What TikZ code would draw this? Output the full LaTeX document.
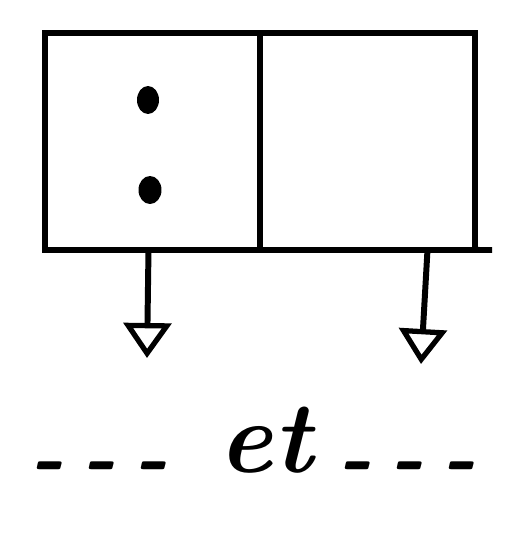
\documentclass[tikz,border=0pt]{standalone}
\usetikzlibrary{arrows.meta,positioning}
\newcommand{\lowdash}{\raisebox{-0.15em}{-}}
\begin{document}
\begin{tikzpicture}[x=0.02cm,y=-0.02cm,line width=3.4pt,
    cell/.style={draw,minimum width=4.3cm,minimum height=4.34cm,inner sep=0pt,outer sep=0pt},
    ptr/.style={-{Triangle[open,length=0.7cm,width=0.95cm,line width=3pt]}}]
    \useasboundingbox (0,0) rectangle (516,541);

    % Cells
    \node[cell] (left) at (152.5,141.5) {};
    \node[cell] (right) at (367.5,141.5) {};
    \coordinate (tail) at (492,250);
    \draw (right.south east) -- (tail);

    % Dots in the first cell
    \fill (148,100) ellipse (0.22cm and 0.28cm);
    \fill (150,190) ellipse (0.23cm and 0.28cm);

    % Pointers
    \coordinate (lend) at (147,358);
    \coordinate (rend) at (421,364);
    \draw[ptr] ([xshift=-0.08cm]left.south) -- (lend);
    \draw[ptr] ([xshift=1.2cm]right.south) -- (rend);

    % Caption
    \node[anchor=base,inner sep=0pt] (etc) at (253,472)
        {\fontsize{48}{60}\selectfont\bfseries\itshape
         \lowdash\hspace{0.2em}\lowdash\hspace{0.2em}\lowdash\hspace{0.6em}{\fontsize{58}{60}\selectfont et}\hspace{0.3em}\lowdash\hspace{0.2em}\lowdash\hspace{0.2em}\lowdash};
\end{tikzpicture}
\end{document}
